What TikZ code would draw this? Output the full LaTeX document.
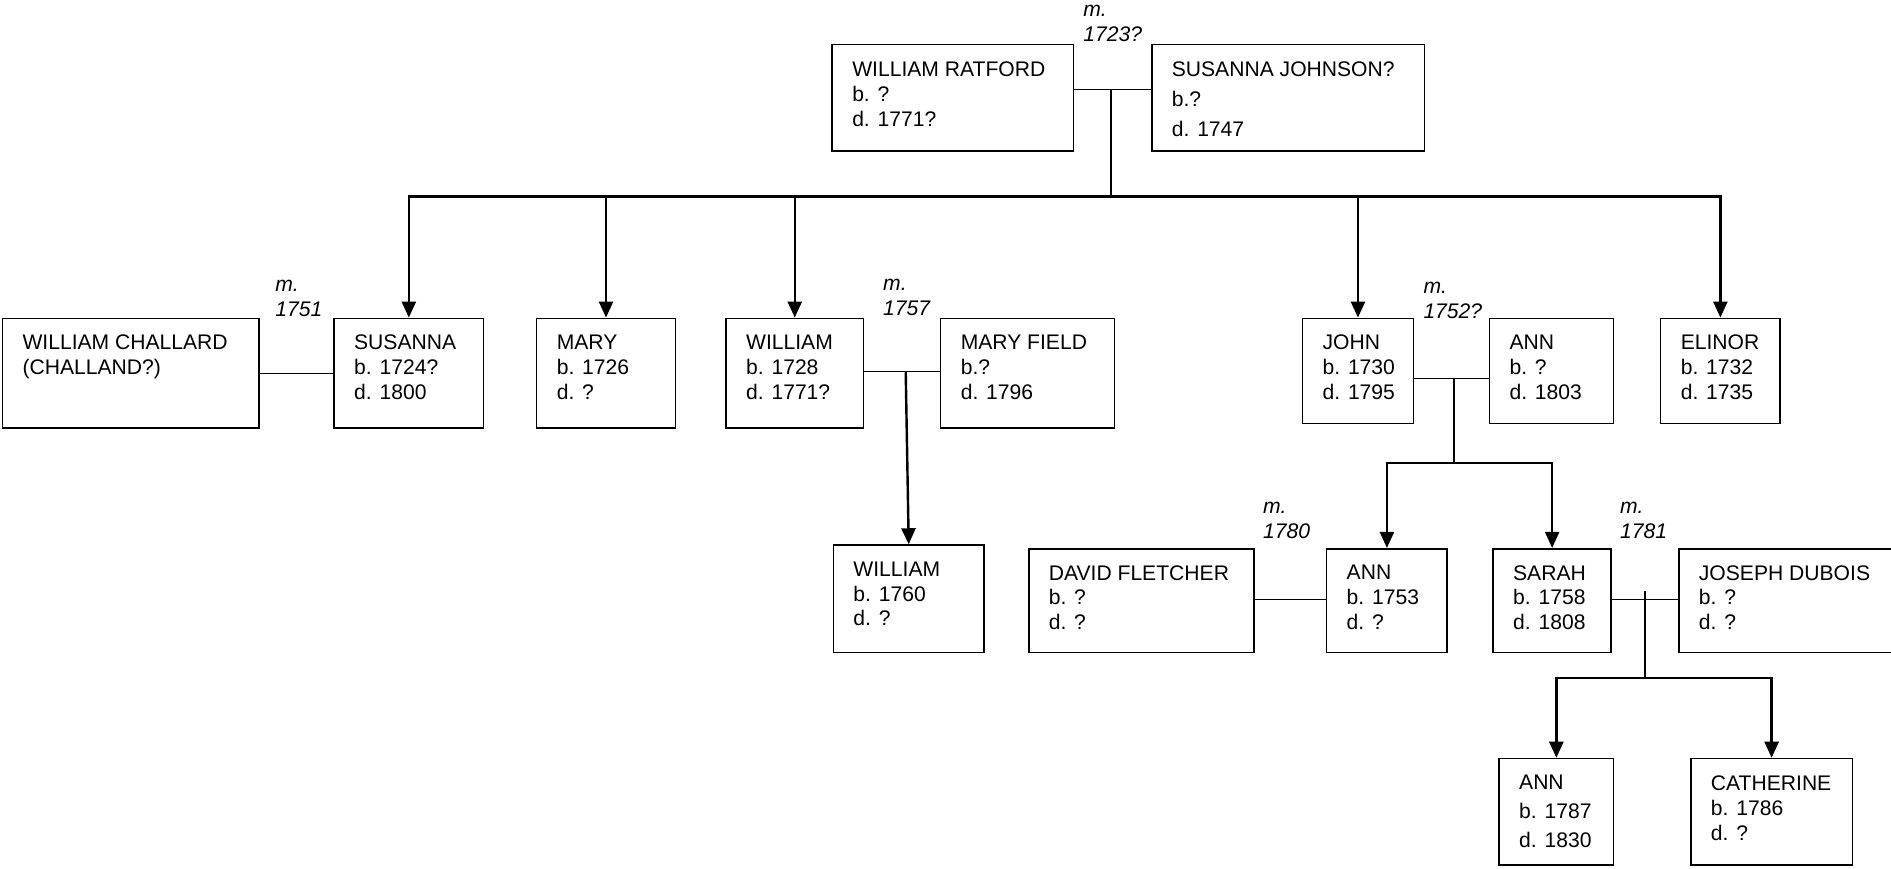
\documentclass[tikz,border=0pt]{standalone}
\usepackage{fontspec}
\setmainfont{Liberation Sans}
\usetikzlibrary{fit,arrows.meta}

\tikzset{
  person/.style={draw, line width=0.8pt, inner sep=0pt},
  info/.style={anchor=north west, inner sep=0pt, align=left, xshift=10.2pt, yshift=-8.5pt,
    font=\fontsize{10.5}{12.3}\selectfont},
  wed/.style={anchor=south west, inner sep=0pt, align=left,
    font=\itshape\fontsize{10.5}{12.6}\selectfont},
  wedline/.style={line width=0.6pt},
  stem/.style={line width=1pt},
  kid/.style={line width=1.2pt, -{Triangle[length=8pt, width=7pt]}},
}

\begin{document}
\begin{tikzpicture}[x=0.6pt, y=-0.6pt]
  \useasboundingbox (0,0) rectangle (1568,720);

  % parents
  \node[person, fit={(690,37) (890,125)},
    label={[info, font=\fontsize{10.5}{12.6}\selectfont]north west:{WILLIAM RATFORD\\b. ?\\d. 1771?}}] (ratford) {};
  \node[person, fit={(955,37) (1181,125)},
    label={[info, font=\fontsize{10.5}{15}\selectfont]north west:{SUSANNA JOHNSON?\\b.?\\d. 1747}}] (johnson) {};
  \node[wed] (m1723) at (898,35) {m.\\1723?};

  % children
  \node[person, fit={(2,264) (215,355)},
    label={[info]north west:{WILLIAM CHALLARD\\(CHALLAND?)}}] (challard) {};
  \node[person, fit={(277,264) (401,355)},
    label={[info]north west:{SUSANNA\\b. 1724?\\d. 1800}}] (susanna) {};
  \node[person, fit={(445,264) (560,355)},
    label={[info]north west:{MARY\\b. 1726\\d. ?}}] (mary) {};
  \node[person, fit={(602,264) (716,355)},
    label={[info]north west:{WILLIAM\\b. 1728\\d. 1771?}}] (william) {};
  \node[person, fit={(780,264) (924,355)},
    label={[info]north west:{MARY FIELD\\b.?\\d. 1796}}] (maryfield) {};
  \node[person, fit={(1080,264) (1172,351)},
    label={[info]north west:{JOHN\\b. 1730\\d. 1795}}] (john) {};
  \node[person, fit={(1235,264) (1338,351)},
    label={[info]north west:{ANN\\b. ?\\d. 1803}}] (annwife) {};
  \node[person, fit={(1377,264) (1476,351)},
    label={[info]north west:{ELINOR\\b. 1732\\d. 1735}}] (elinor) {};
  \node[wed] (m1751) at (228,263) {m.\\1751};
  \node[wed] (m1757) at (732,262) {m.\\1757};
  \node[wed] (m1752) at (1180,265) {m.\\1752?};

  % grandchildren
  \node[person, fit={(691,452) (816,541)},
    label={[info]north west:{WILLIAM\\b. 1760\\d. ?}}] (son) {};
  \node[person, fit={(853,455) (1040,541)},
    label={[info]north west:{DAVID FLETCHER\\b. ?\\d. ?}}] (fletcher) {};
  \node[person, fit={(1100,455) (1200,541)},
    label={[info]north west:{ANN\\b. 1753\\d. ?}}] (anndau) {};
  \node[person, fit={(1238,455) (1336,541)},
    label={[info]north west:{SARAH\\b. 1758\\d. 1808}}] (sarah) {};
  \node[person, fit={(1392,455) (1590,541)},
    label={[info]north west:{JOSEPH DUBOIS\\b. ?\\d. ?}}] (dubois) {};
  \node[wed] (m1780) at (1047,447) {m.\\1780};
  \node[wed] (m1781) at (1343,447) {m.\\1781};

  % great-grandchildren
  \node[person, fit={(1243,629) (1338,717)},
    label={[info, font=\fontsize{10.5}{14.4}\selectfont]north west:{ANN\\b. 1787\\d. 1830}}] (anngrand) {};
  \node[person, fit={(1402,629) (1536,717)},
    label={[info, font=\fontsize{10.5}{12.6}\selectfont]north west:{CATHERINE\\b. 1786\\d. ?}}] (catherine) {};

  % marriages and descent
  \coordinate (u1) at (921,74);
  \coordinate (bar1) at (921,163);
  \draw[wedline] (ratford.east |- u1) -- (johnson.west |- u1);
  \draw[stem] (u1) -- (bar1);
  \draw[kid] (bar1) -| (susanna.north);
  \draw[kid] (bar1) -| (elinor.north);
  \foreach \k in {mary, william, john}
    \draw[kid] (\k.north |- bar1) -- (\k.north);

  \coordinate (u2) at (246,310);
  \draw[wedline] (challard.east |- u2) -- (susanna.west |- u2);

  \coordinate (u3) at (751,308);
  \draw[wedline] (william.east |- u3) -- (maryfield.west |- u3);
  \draw[kid] (u3) -- (son.north);

  \coordinate (u4) at (1206,314);
  \coordinate (bar4) at (1206,384);
  \draw[wedline] (john.east |- u4) -- (annwife.west |- u4);
  \draw[stem] (u4) -- (bar4);
  \draw[kid] (bar4) -| (anndau.north);
  \draw[kid] (bar4) -| (sarah.north);

  \coordinate (u5) at (1070,497);
  \draw[wedline] (fletcher.east |- u5) -- (anndau.west |- u5);

  \coordinate (u6) at (1364,497);
  \coordinate (bar6) at (1364,562);
  \draw[wedline] (sarah.east |- u6) -- (dubois.west |- u6);
  \draw[stem] (1364,490) -- (bar6);
  \draw[kid] (bar6) -| (anngrand.north);
  \draw[kid] (bar6) -| (catherine.north);
\end{tikzpicture}
\end{document}
